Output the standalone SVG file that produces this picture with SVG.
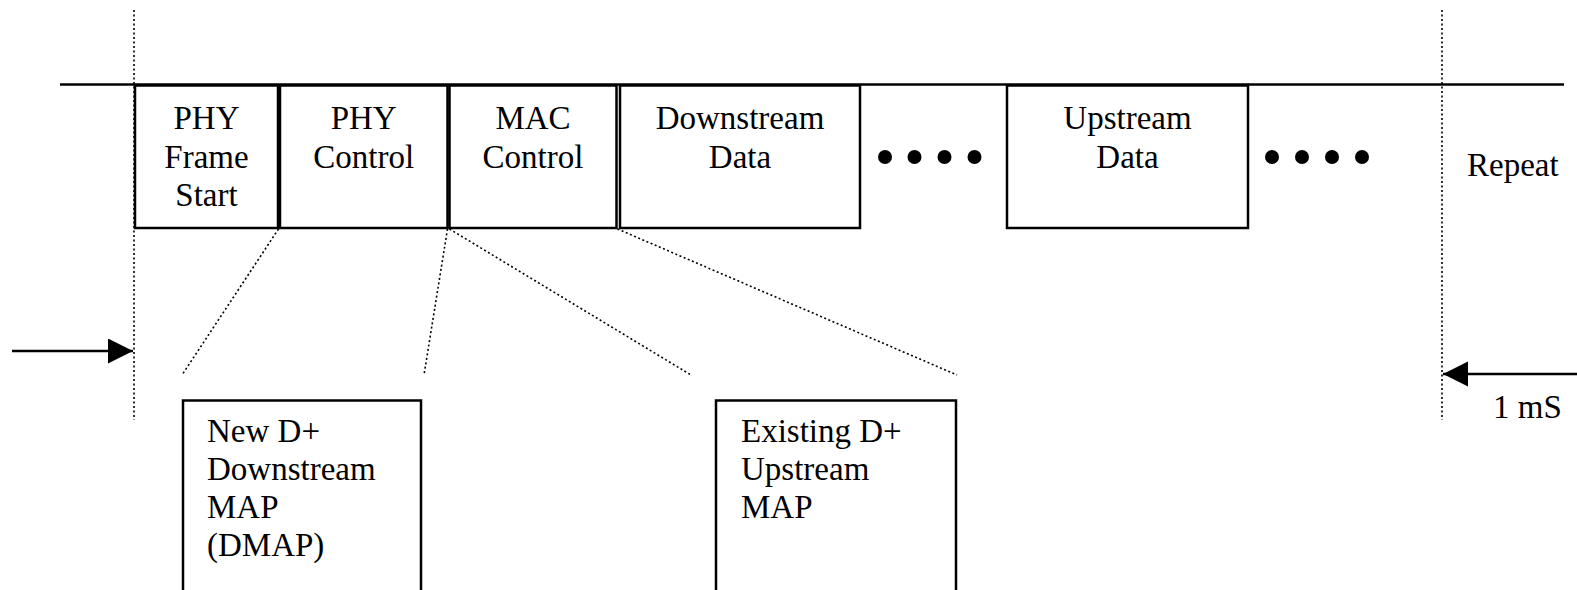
<svg xmlns="http://www.w3.org/2000/svg" width="1577" height="590" viewBox="0 0 1577 590">
<style>
.box{fill:#fff;stroke:#000;stroke-width:2.5}
.t{font-family:"Liberation Serif","Times New Roman",serif;font-size:33px;fill:#000}
.c{text-anchor:middle}
.dot{fill:none;stroke:#000;stroke-width:1.6;stroke-dasharray:2 2.5}
.ln{stroke:#000;stroke-width:2.5;fill:none}
</style>
<defs>
<marker id="ah" markerWidth="26" markerHeight="26" refX="25" refY="12.5" orient="auto" markerUnits="userSpaceOnUse">
<path d="M0,0 L25,12.5 L0,25 Z" fill="#000"/>
</marker>
</defs>
<rect width="1577" height="590" fill="#fff"/>
<g id="connectors">
<line class="ln" x1="60" y1="84.5" x2="1564" y2="84.5"/>
<line class="dot" x1="134" y1="10" x2="134" y2="420"/>
<line class="dot" x1="1442" y1="10" x2="1442" y2="420"/>
<line class="dot" x1="278.5" y1="229" x2="182" y2="375"/>
<line class="dot" x1="447.5" y1="229" x2="424" y2="375"/>
<line class="dot" x1="449.5" y1="229" x2="691" y2="375"/>
<line class="dot" x1="617.5" y1="229" x2="957" y2="375"/>
<line class="ln" x1="12" y1="351" x2="133" y2="351" marker-end="url(#ah)"/>
<line class="ln" x1="1577" y1="374" x2="1443" y2="374" marker-end="url(#ah)"/>
</g>
<g id="phy-frame-start">
<rect class="box" x="135" y="85.5" width="143" height="142.5"/>
<text class="t c" x="206.5" y="129">PHY</text>
<text class="t c" x="206.5" y="167.5">Frame</text>
<text class="t c" x="206.5" y="206">Start</text>
</g>
<g id="phy-control">
<rect class="box" x="280" y="85.5" width="167.5" height="142.5"/>
<text class="t c" x="363.7" y="129">PHY</text>
<text class="t c" x="363.7" y="167.5">Control</text>
</g>
<g id="mac-control">
<rect class="box" x="449.5" y="85.5" width="167" height="142.5"/>
<text class="t c" x="533" y="129">MAC</text>
<text class="t c" x="533" y="167.5">Control</text>
</g>
<g id="downstream-data">
<rect class="box" x="620" y="85.5" width="240" height="142.5"/>
<text class="t c" x="740" y="129">Downstream</text>
<text class="t c" x="740" y="167.5">Data</text>
</g>
<g id="ellipsis-1">
<circle cx="885" cy="157" r="7"/>
<circle cx="914.5" cy="157" r="7"/>
<circle cx="944.5" cy="157" r="7"/>
<circle cx="974.5" cy="157" r="7"/>
</g>
<g id="upstream-data">
<rect class="box" x="1007" y="85.5" width="241" height="142.5"/>
<text class="t c" x="1127.5" y="129">Upstream</text>
<text class="t c" x="1127.5" y="167.5">Data</text>
</g>
<g id="ellipsis-2">
<circle cx="1272" cy="157" r="7"/>
<circle cx="1302" cy="157" r="7"/>
<circle cx="1332" cy="157" r="7"/>
<circle cx="1362" cy="157" r="7"/>
</g>
<g id="repeat">
<text class="t" x="1467" y="176">Repeat</text>
</g>
<g id="period">
<text class="t" x="1493" y="418">1 mS</text>
</g>
<g id="dmap">
<rect class="box" x="183" y="400.5" width="238" height="200"/>
<text class="t" x="207" y="442">New D+</text>
<text class="t" x="207" y="480">Downstream</text>
<text class="t" x="207" y="518">MAP</text>
<text class="t" x="207" y="556">(DMAP)</text>
</g>
<g id="umap">
<rect class="box" x="716" y="400.5" width="240" height="200"/>
<text class="t" x="741" y="442">Existing D+</text>
<text class="t" x="741" y="480">Upstream</text>
<text class="t" x="741" y="518">MAP</text>
</g>
</svg>
